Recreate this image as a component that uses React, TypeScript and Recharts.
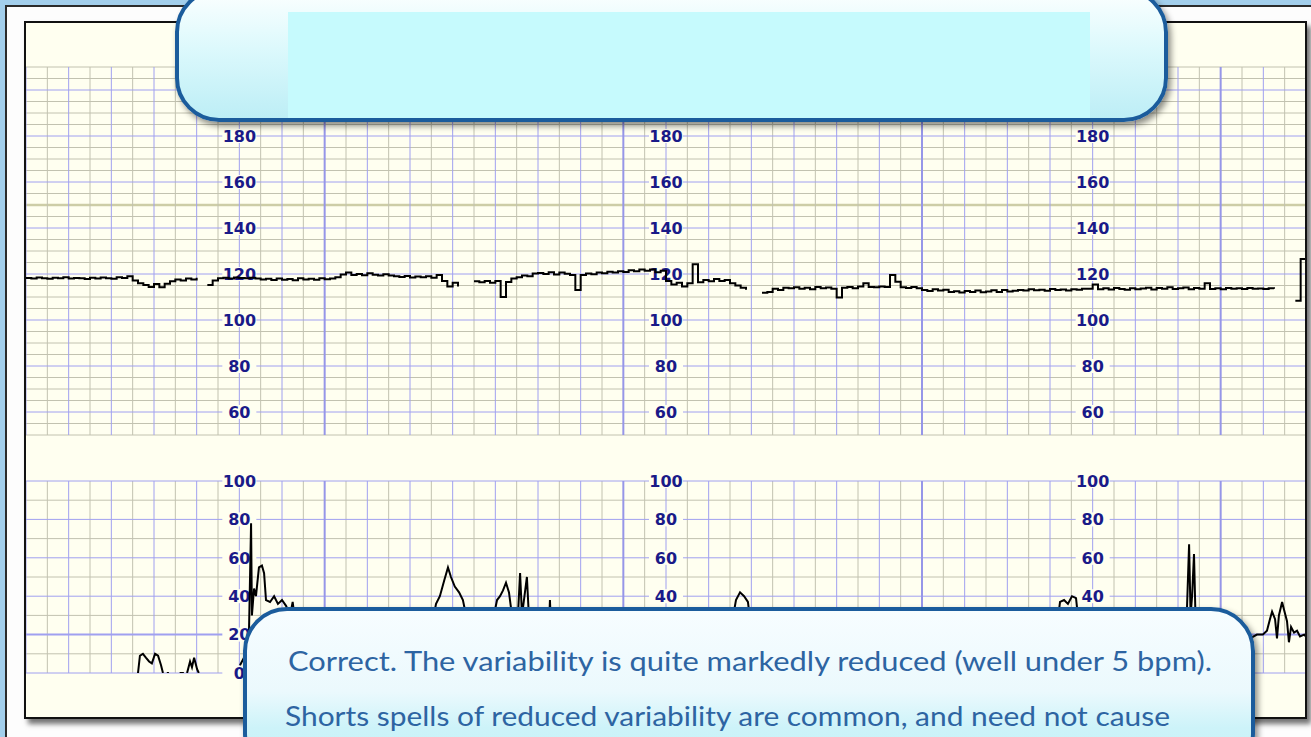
import { LineChart, Line, XAxis, YAxis, ReferenceLine, ReferenceDot } from 'recharts';

// CTG strip: time axis in grid squares (0..60), FHR sampled every quarter square
const STEP = 0.25;

// fetal heart rate, bpm (null = signal loss)
const FHR: (number | null)[] = [
  118.3, 118.0, 118.5, 118.2, 117.9, 118.4, 118.1, 118.6, 118.0, 118.3,
  118.2, 117.8, 118.4, 118.0, 118.5, 118.1, 117.9, 118.6, 118.3, 119.0,
  117.2, 116.0, 115.2, 114.4, 115.6, 114.2, 115.8, 116.8, 117.6, 117.2, 118.0, 117.6, 118.4, null, 115.2, 117.2,
  118.2, 118.4, 118.0, 118.5, 118.3, 118.1, 118.4, 118.0,
  117.6, 117.9, 117.4, 118.0, 117.5, 117.8, 117.3, 118.1, 117.6, 117.9, 117.5, 118.2, 117.7, 118.0, 118.6,
  119.8, 120.6, 119.6, 120.0, 119.5, 120.3, 119.7, 119.4, 119.9, 119.3, 119.0,
  118.7, 119.1, 118.5, 118.9, 118.6, 119.0, 118.4, 119.6, 117.0, 114.6, 116.2, 114.6, null, null,
  116.8, 116.4, 117.0, 116.2, 117.0, 110.0, 116.5, 118.0, 118.6, 119.4, 119.0, 120.2,
  120.4, 120.0, 120.8, 119.8, 120.6, 120.1, 119.6, 113.0,
  119.6, 120.2, 119.9, 120.6, 120.3, 121.0, 120.6, 121.2, 120.9, 121.6, 121.2, 122.0,
  121.4, 122.0, 120.8, 121.4, 117.0, 115.4, 116.2, 114.6, 116.0, 124.2,
  116.4, 117.4, 116.8, 117.8, 117.0, 117.4, 116.0, 115.0, 114.0, 113.2, null, null,
  111.8, 112.2, 113.6, 113.0, 114.0, 113.8, 114.2, 113.6, 114.0, 113.4, 114.3, 113.8, 114.1, 113.6, 109.8,
  114.0, 114.4, 113.8, 114.6, 116.0, 114.4, 114.2, 114.6, 114.4, 119.6, 116.6,
  114.2, 113.9, 114.3, 113.8, 113.0, 112.6, 113.4, 112.8, 113.2,
  112.2, 112.5, 112.0, 112.6, 112.2, 112.8, 112.1, 112.4, 112.9, 112.2, 113.0, 112.4, 112.7,
  113.0, 112.8, 113.4, 112.9, 113.2, 112.7, 113.5, 113.0, 113.3, 112.8, 113.4, 113.1, 113.6,
  113.6, 115.4, 113.4, 113.8, 113.3, 113.9, 113.5, 113.2, 113.8, 113.4,
  113.7, 114.0, 113.3, 113.9, 113.6, 114.2, 113.5, 113.8, 114.1, 113.4,
  113.9, 113.6, 116.0, 113.5, 113.8, 113.4, 113.9, 113.6, 113.8, 113.5,
  113.9, 113.6, 113.7, 113.5, 113.8, 113.6,
  null, null, null, 108.4, 126.5, 124.0,
];

// uterine activity: sample times and values (null breaks the trace)
const TOCO_T = [
  5.25, 5.34, 5.48, 5.62, 5.77, 5.9, 6.05, 6.19, 6.33, 6.42, 6.5,
  6.6, 6.7, 6.75, 7.2, 7.4, 7.45,
  7.55, 7.69, 7.78, 7.88, 8.02, 8.1, 8.2,
  10.03, 10.22, 10.36, 10.45, 10.55, 10.59, 10.69, 10.78, 10.92, 11.06, 11.16, 11.25,
  11.44, 11.63, 11.81, 12.0, 12.19, 12.38, 12.5, 12.6, 12.84, 12.9,
  18.94, 19.22, 19.4, 19.6, 19.78, 19.92, 20.1, 20.3, 20.48, 20.72, 20.8,
  21.84, 22.08, 22.22, 22.36, 22.5, 22.64, 22.78, 23.06, 23.16, 23.25, 23.48, 23.58, 23.9,
  24.5, 24.56, 24.62, 24.7,
  33.0, 33.28, 33.47, 33.66, 33.84, 34.03, 34.1,
  48.28, 48.47, 48.66, 48.84, 49.03, 49.22, 49.4, 49.5,
  54.38, 54.52, 54.59, 54.66, 54.75, 54.84, 54.9,
  57.38, 57.7, 57.98, 58.17, 58.31, 58.41, 58.55, 58.64, 58.73, 58.88, 58.97, 59.11,
  59.2, 59.3, 59.44, 59.58, 59.72, 59.91, 60,
];
const TOCO_V: (number | null)[] = [
  0, 9, 10, 8, 6, 5, 10, 9, 4, 0, null,
  0, 0, null, 0, 0, null,
  0, 6, 3, 8, 2, 0, null,
  4, 8, 6, 20, 78, 30, 44, 40, 55, 56, 52, 38,
  37, 40, 36, 38, 35, 30, 37, 28, 20, null,
  20, 36, 40, 48, 55, 50, 45, 42, 38, 25, null,
  25, 38, 40, 43, 47, 42, 30, 30, 52, 30, 50, 28, 20,
  20, 38, 20, null,
  20, 38, 42, 40, 37, 20, null,
  20, 37, 38, 36, 40, 39, 20, null,
  20, 67, 30, 40, 62, 20, null,
  18, 20, 20, 22, 28, 32, 28, 18, 30, 37, 33, 27,
  16, 24, 21, 22, 19, 20, 19,
];

const FHR_TICKS = [60, 80, 100, 120, 140, 160, 180];
const TOCO_TICKS = [0, 20, 40, 60, 80, 100];
const LABEL_COLS = [10, 30, 50];

const CREAM = '#fffff0';
const MINOR = '#c2c2b0';
const MAJOR = '#a0a0f0';
const INK = '#1a1a88';
const PAD = 14;

const fhrData = FHR.map((v, i) => ({ t: i * STEP, fhr: v }));
const tocoData = TOCO_T.map((t, i) => ({ t, toco: TOCO_V[i] }));

const range = (a: number, b: number, s: number) => {
  const out: number[] = [];
  for (let v = a; v <= b + 1e-9; v += s) out.push(v);
  return out;
};

function gridLines(lo: number, hi: number, minorStep: number, thickAt: number, thickColor: string) {
  const hs = range(lo, hi, minorStep);
  const vs = range(0, 60, 1);
  return [
    ...hs.filter((v) => v % 20 !== 0).map((v) => (
      <ReferenceLine key={'hm' + v} y={v} stroke={v === thickAt ? thickColor : MINOR} strokeWidth={v === thickAt ? 2.5 : 1} />
    )),
    ...vs.filter((t) => t % 2 !== 0).map((t) => (
      <ReferenceLine key={'vm' + t} x={t} stroke={MINOR} strokeWidth={1} />
    )),
    ...hs.filter((v) => v % 20 === 0).map((v) => (
      <ReferenceLine key={'hM' + v} y={v} stroke={MAJOR} strokeWidth={v === thickAt ? 2 : 1} />
    )),
    ...vs.filter((t) => t % 2 === 0).map((t) => (
      <ReferenceLine key={'vM' + t} x={t} stroke={t % 14 === 0 && t > 0 ? '#9696e8' : MAJOR} strokeWidth={t % 14 === 0 && t > 0 ? 2 : 1} />
    )),
  ];
}

function labels(ticks: number[]) {
  return LABEL_COLS.flatMap((c) =>
    ticks.map((v) => (
      <ReferenceDot
        key={`l${c}-${v}`}
        x={c}
        y={v}
        r={0}
        shape={(p: any) => (
          <g>
            <rect x={p.cx - 17} y={p.cy - 7} width={34} height={14} fill={CREAM} />
            <text
              x={p.cx}
              y={p.cy}
              dy="0.36em"
              textAnchor="middle"
              fontFamily="'DejaVu Sans', Verdana, sans-serif"
              fontWeight="bold"
              fontSize={16}
              fill={INK}
            >
              {v}
            </text>
          </g>
        )}
      />
    ))
  );
}

type PanelProps = {
  top: number;
  height: number;
  domain: [number, number];
  data: any[];
  children: any;
};

function Panel({ top, height, domain, data, children }: PanelProps) {
  return (
    <div style={{ position: 'absolute', left: -PAD, top: top - PAD }}>
      <LineChart
        width={1280 + 2 * PAD}
        height={height + 2 * PAD}
        data={data}
        margin={{ top: PAD, right: PAD, bottom: PAD, left: PAD }}
      >
        <XAxis dataKey="t" type="number" domain={[0, 60]} hide allowDataOverflow />
        <YAxis type="number" domain={domain} hide allowDataOverflow />
        {children}
      </LineChart>
    </div>
  );
}

const calloutBox = {
  position: 'absolute' as const,
  boxSizing: 'border-box' as const,
  border: '4px solid #1b5c9c',
  borderRadius: 44,
  boxShadow: '3px 4px 6px rgba(0,0,0,0.45)',
  overflow: 'hidden' as const,
};

export default function App() {
  return (
    <div style={{ position: 'relative', width: 1311, height: 737, overflow: 'hidden', background: '#a3cfec' }}>
      <style>{'body{margin:0;overflow:hidden}'}</style>
      <div
        style={{
          position: 'absolute', left: 5, top: 5, width: 1330, height: 760,
          background: '#fdfdfd', border: '2px solid #2b2b2b', boxSizing: 'border-box',
        }}
      />
      <div
        style={{
          position: 'absolute', left: 24, top: 21, width: 1283, height: 698,
          background: CREAM, border: '2px solid #111', boxSizing: 'border-box',
          boxShadow: '4px 5px 5px rgba(0,0,0,0.55)', overflow: 'hidden',
        }}
      >
        {/* heart rate panel */}
        <Panel top={43.7} height={368} domain={[50, 210]} data={fhrData}>
          {gridLines(50, 210, 5, 150, '#cdcda6')}
          {labels(FHR_TICKS)}
        </Panel>
        <Panel top={43.7} height={368} domain={[50, 210]} data={fhrData}>
          <Line
            dataKey="fhr"
            type="stepAfter"
            stroke="#000"
            strokeWidth={2}
            dot={false}
            connectNulls={false}
            isAnimationActive={false}
          />
        </Panel>
        {/* uterine activity panel */}
        <Panel top={458} height={192} domain={[0, 100]} data={tocoData}>
          {gridLines(0, 100, 10, 20, MAJOR)}
          {labels(TOCO_TICKS)}
        </Panel>
        <Panel top={458} height={192} domain={[0, 100]} data={tocoData}>
          <Line
            dataKey="toco"
            type="linear"
            stroke="#000"
            strokeWidth={2}
            dot={false}
            connectNulls={false}
            isAnimationActive={false}
          />
        </Panel>
      </div>

      {/* top callout */}
      <div
        style={{
          ...calloutBox, left: 175, top: -12, width: 993, height: 134,
          background: 'linear-gradient(180deg, #fbffff 0%, #dcf9fc 45%, #bdeef6 100%)',
        }}
      >
        <div style={{ position: 'absolute', left: 109, top: 20, width: 802, height: 120, background: '#c6fafd' }} />
      </div>

      {/* bottom callout */}
      <div
        style={{
          ...calloutBox, left: 243, top: 607, width: 1012, height: 170,
          background: 'linear-gradient(180deg, #f7fdff 0%, #ebf9fd 50%, #cdf3f9 72%, #c4f1f8 100%)',
        }}
      />
      <svg width={1311} height={737} style={{ position: 'absolute', left: 0, top: 0, pointerEvents: 'none' }}>
        <text
          x={288}
          y={671}
          fontFamily="'Gill Sans', Lato, 'Open Sans', sans-serif"
          fontSize={27}
          fill="#2d64a2"
          textLength={924}
          lengthAdjust="spacingAndGlyphs"
        >
          Correct. The variability is quite markedly reduced (well under 5 bpm).
        </text>
        <text
          x={285}
          y={726}
          fontFamily="'Gill Sans', Lato, 'Open Sans', sans-serif"
          fontSize={27}
          fill="#2d64a2"
          textLength={885}
          lengthAdjust="spacingAndGlyphs"
        >
          Shorts spells of reduced variability are common, and need not cause
        </text>
      </svg>
    </div>
  );
}
